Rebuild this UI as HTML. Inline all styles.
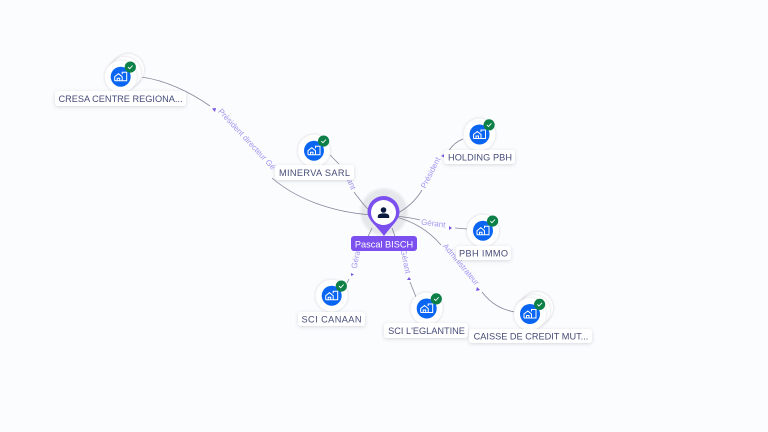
<!DOCTYPE html>
<html><head><meta charset="utf-8"><style>
html,body{margin:0;padding:0;background:#fbfcfe}
svg{display:block}
text{font-family:"Liberation Sans",sans-serif}
.l{font-size:9.2px;fill:#464c78;text-anchor:middle}
.e{font-size:8px;fill:#a296f0;text-anchor:middle}
.p{fill:none;stroke:#85869a;stroke-width:.8}
.a{fill:#7a55e0}
</style></head><body>
<svg width="768" height="432" viewBox="0 0 768 432" xmlns="http://www.w3.org/2000/svg">
<defs>
<filter id="s" x="-20%" y="-50%" width="140%" height="220%"><feDropShadow dx="0" dy="1" stdDeviation="1.8" flood-color="#556" flood-opacity=".22"/></filter>
<filter id="n" x="-30%" y="-30%" width="160%" height="160%"><feDropShadow dx="0" dy="0" stdDeviation="1.2" flood-color="#556" flood-opacity=".28"/></filter>
<filter id="h" x="-30%" y="-30%" width="160%" height="160%"><feGaussianBlur stdDeviation="1.2"/></filter>
<g id="node">
<circle r="16" fill="#fff" filter="url(#n)"/>
<circle r="10" fill="#0a66f2"/>
<path d="M-6,4V0L-2.2,-3L1.500,0V4M-3.500,4V1.500H-1V4M1.500,-2.500V-4.500H6V4H-6" fill="none" stroke="#fff" stroke-width="1"/>
<circle cx="9.600" cy="-9.600" r="5.600" fill="#0d8048"/>
<path d="M7.300,-9.600L9,-8L12,-11.200" fill="none" stroke="#fff" stroke-width=".9"/>
</g>
</defs>
<rect width="768" height="432" fill="#fbfcfe"/>

<circle cx="384" cy="212" r="23.500" fill="#e6e7ea" filter="url(#h)"/>

<!-- edges -->
<path class="p" d="M141,77C165,80 190,92 210,106"/>
<path class="p" d="M272,178C295,198 330,212 372,215"/>
<path class="p" d="M330,155L339,164"/>
<path class="p" d="M354,192C360,200 365,207 372,213"/>
<path class="p" d="M463,139C455,142 451,147 448,152"/>
<path class="p" d="M422,190C416,200 408,208 396,214"/>
<path class="p" d="M396,216C405,217 412,218 420,220"/>
<path class="p" d="M455,228L467,229"/>
<path class="p" d="M396,217C415,222 430,232 441,245"/>
<path class="p" d="M482,292C492,305 503,310 515,312"/>
<path class="p" d="M349,279L347,283"/>
<path class="p" d="M372,228L364,245"/>
<path class="p" d="M392,228L398,245"/>
<path class="p" d="M410,282L416,297"/>

<!-- edge labels -->
<text class="e" transform="translate(245,141) rotate(47)">Président directeur Gé</text>
<text class="e" transform="translate(349,185) rotate(68)">ant</text>
<text class="e" transform="translate(433,174) rotate(-63)">Président</text>
<text class="e" transform="translate(433,226) rotate(7)">Gérant</text>
<text class="e" transform="translate(459,266) rotate(50)">Administrateur</text>
<text class="e" transform="translate(359,257) rotate(-78)">Gérant</text>
<text class="e" transform="translate(403,262) rotate(78)">Gérant</text>

<!-- arrowheads -->
<path class="a" d="M212,108.500L216,108L215,112Z"/>
<path class="a" d="M441,156L445,153.500L444.500,157.500Z"/>
<path class="a" d="M449,226L452,228L449,230Z"/>
<path class="a" d="M477,287L480,290L476,291Z"/>
<path class="a" d="M351,273L354,274.500L351,276Z"/>
<path class="a" d="M409,277L411,280L407,280Z"/>

<!-- center -->
<path d="M367.500,212A16,16 0 1 1 399.500,212C399.500,220 392,225 384,236C376,225 367.500,220 367.500,212Z" fill="#7b50ee"/>
<circle cx="383.500" cy="212.500" r="12.500" fill="#fff"/>
<circle cx="383.500" cy="210" r="2.800" fill="#0b1b40"/>
<path d="M377.800,218V216.300C377.800,214 380.500,213.400 383.500,213.400C386.500,213.400 389.200,214 389.200,216.300V218Z" fill="#0b1b40"/>
<rect x="351" y="236" width="66" height="15" rx="3" fill="#7b50ee"/>
<text x="384" y="247.500" font-size="9.200" fill="#fff" text-anchor="middle">Pascal BISCH</text>

<!-- stacks -->
<circle cx="128" cy="70" r="16" fill="#fff" filter="url(#n)"/>
<circle cx="125" cy="73" r="16" fill="#fff" filter="url(#n)"/>
<circle cx="537" cy="308" r="16" fill="#fff" filter="url(#n)"/>
<circle cx="534" cy="311" r="16" fill="#fff" filter="url(#n)"/>

<!-- nodes -->
<use href="#node" x="120.700" y="76.700"/>
<use href="#node" x="314" y="150.700"/>
<use href="#node" x="479.500" y="134.500"/>
<use href="#node" x="483" y="230.700"/>
<use href="#node" x="331.700" y="295.700"/>
<use href="#node" x="426.700" y="308.500"/>
<use href="#node" x="530" y="314"/>

<!-- labels -->
<rect x="55" y="91" width="131" height="15" rx="3" fill="#fff" filter="url(#s)"/>
<text class="l" x="120.500" y="102">CRESA CENTRE REGIONA...</text>
<rect x="275" y="165" width="79" height="15" rx="3" fill="#fff" filter="url(#s)"/>
<text class="l" x="314.500" y="176" textLength="71">MINERVA SARL</text>
<rect x="444" y="150" width="71" height="14" rx="3" fill="#fff" filter="url(#s)"/>
<text class="l" x="480" y="160.500" textLength="64">HOLDING PBH</text>
<rect x="456" y="246" width="55" height="14" rx="3" fill="#fff" filter="url(#s)"/>
<text class="l" x="483.500" y="256.500" textLength="49">PBH IMMO</text>
<rect x="298" y="312" width="67" height="14" rx="3" fill="#fff" filter="url(#s)"/>
<text class="l" x="331.500" y="322.500" textLength="60">SCI CANAAN</text>
<rect x="384" y="323" width="84" height="15" rx="3" fill="#fff" filter="url(#s)"/>
<text class="l" x="426.500" y="334">SCI L'EGLANTINE</text>
<rect x="469" y="329" width="123" height="14" rx="3" fill="#fff" filter="url(#s)"/>
<text class="l" x="531" y="339.500">CAISSE DE CREDIT MUT...</text>
</svg>
</body></html>
